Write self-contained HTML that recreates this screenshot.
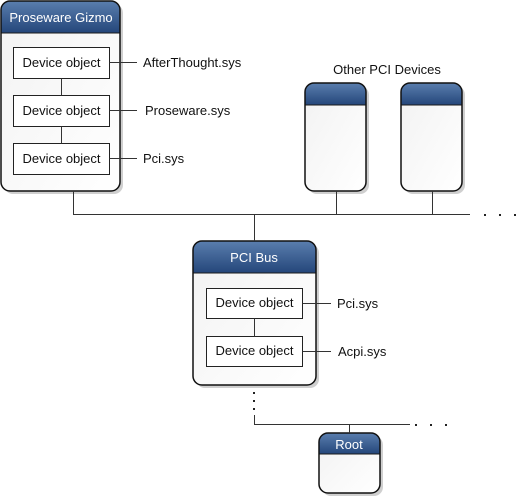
<!DOCTYPE html>
<html><head><meta charset="utf-8"><style>
html,body{margin:0;padding:0;background:#fff;}
svg{display:block;font-family:"Liberation Sans",Arial,sans-serif;}
</style></head><body>
<svg width="523" height="498" viewBox="0 0 523 498" xmlns="http://www.w3.org/2000/svg">
<defs>
<linearGradient id="hd" x1="0" y1="0" x2="0" y2="1">
<stop offset="0" stop-color="#5a7eae"/><stop offset="1" stop-color="#24467a"/>
</linearGradient>
<linearGradient id="bd" x1="0" y1="0" x2="1" y2="1">
<stop offset="0" stop-color="#f2f2f2"/><stop offset="1" stop-color="#ffffff"/>
</linearGradient>
<clipPath id="c1"><rect x="1" y="1" width="119" height="190" rx="9"/></clipPath>
<clipPath id="c2"><rect x="193" y="241" width="123" height="144" rx="9"/></clipPath>
<clipPath id="c3"><rect x="305" y="83" width="61" height="108" rx="9"/></clipPath>
<clipPath id="c4"><rect x="401" y="83" width="61" height="108" rx="9"/></clipPath>
<clipPath id="c5"><rect x="319" y="433" width="61" height="60" rx="9"/></clipPath>
</defs>
<g fill="#cfcfcf">
<rect x="4" y="4" width="119" height="190" rx="9"/>
<rect x="196" y="244" width="123" height="144" rx="9"/>
<rect x="308" y="86" width="61" height="108" rx="9"/>
<rect x="404" y="86" width="61" height="108" rx="9"/>
<rect x="322" y="436" width="61" height="60" rx="9"/>
</g>
<g clip-path="url(#c1)"><rect x="1" y="1" width="119" height="190" fill="url(#bd)"/><rect x="1" y="1" width="119" height="32" fill="url(#hd)"/><line x1="1" y1="33" x2="120" y2="33" stroke="#1a1a1a"/></g>
<g clip-path="url(#c2)"><rect x="193" y="241" width="123" height="144" fill="url(#bd)"/><rect x="193" y="241" width="123" height="32" fill="url(#hd)"/><line x1="193" y1="273" x2="316" y2="273" stroke="#1a1a1a"/></g>
<g clip-path="url(#c3)"><rect x="305" y="83" width="61" height="108" fill="url(#bd)"/><rect x="305" y="83" width="61" height="22" fill="url(#hd)"/><line x1="305" y1="105" x2="366" y2="105" stroke="#1a1a1a"/></g>
<g clip-path="url(#c4)"><rect x="401" y="83" width="61" height="108" fill="url(#bd)"/><rect x="401" y="83" width="61" height="22" fill="url(#hd)"/><line x1="401" y1="105" x2="462" y2="105" stroke="#1a1a1a"/></g>
<g clip-path="url(#c5)"><rect x="319" y="433" width="61" height="60" fill="url(#bd)"/><rect x="319" y="433" width="61" height="21" fill="url(#hd)"/><line x1="319" y1="454" x2="380" y2="454" stroke="#1a1a1a"/></g>
<g fill="none" stroke="#111" stroke-width="1.5">
<rect x="1" y="1" width="119" height="190" rx="9"/>
<rect x="193" y="241" width="123" height="144" rx="9"/>
<rect x="305" y="83" width="61" height="108" rx="9"/>
<rect x="401" y="83" width="61" height="108" rx="9"/>
<rect x="319" y="433" width="61" height="60" rx="9"/>
</g>
<g fill="#fff" stroke="#222" stroke-width="1">
<rect x="13.5" y="47.5" width="96" height="31"/>
<rect x="13.5" y="95.5" width="96" height="31"/>
<rect x="13.5" y="143.5" width="96" height="31"/>
<rect x="206.5" y="288.5" width="96" height="30"/>
<rect x="206.5" y="336.5" width="96" height="30"/>
</g>
<g stroke="#333" stroke-width="1" fill="none">
<path d="M61.5 78.5V95.5M61.5 126.5V143.5M254.5 318.5V336.5"/>
<path d="M109.5 62.5H137M109.5 110.5H137M109.5 158.5H137M302.5 303.5H331M302.5 351.5H331"/>
<path d="M73.5 191V214.5H470M336.5 191V214.5M432.5 191V214.5M254.5 214.5V241"/>
<path d="M254.5 415V424.5H410M349.5 424.5V433"/>
</g>
<g fill="#222">
<rect x="484" y="214" width="2" height="2"/><rect x="499" y="214" width="2" height="2"/><rect x="514" y="214" width="2" height="2"/>
<rect x="415" y="424" width="2" height="2"/><rect x="430" y="424" width="2" height="2"/><rect x="445" y="424" width="2" height="2"/>
<rect x="253" y="392" width="2" height="2"/><rect x="253" y="400" width="2" height="2"/><rect x="253" y="408" width="2" height="2"/>
</g>
<g font-size="13" fill="#fff" text-anchor="middle">
<text x="61" y="22">Proseware Gizmo</text>
<text x="254" y="262">PCI Bus</text>
<text x="349" y="449">Root</text>
</g>
<g font-size="13" fill="#111" text-anchor="middle">
<text x="61.5" y="67">Device object</text>
<text x="61.5" y="115">Device object</text>
<text x="61.5" y="163">Device object</text>
<text x="254.5" y="307">Device object</text>
<text x="254.5" y="355">Device object</text>
<text x="387" y="74">Other PCI Devices</text>
</g>
<g font-size="13" fill="#111">
<text x="143" y="67">AfterThought.sys</text>
<text x="145" y="115">Proseware.sys</text>
<text x="143" y="163">Pci.sys</text>
<text x="337" y="308">Pci.sys</text>
<text x="338" y="356">Acpi.sys</text>
</g>
</svg>
</body></html>
